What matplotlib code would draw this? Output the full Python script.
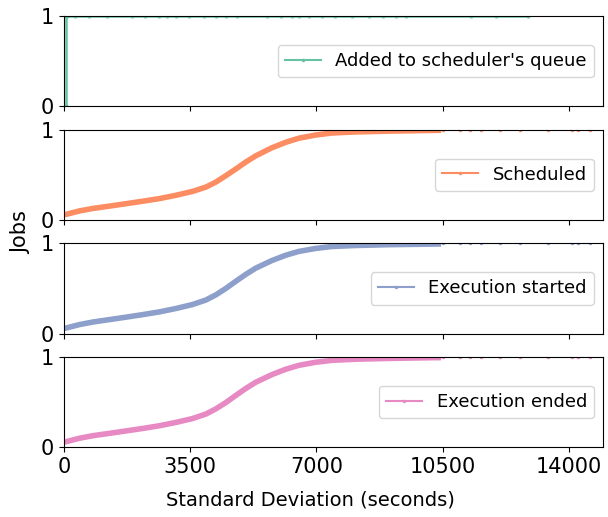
import matplotlib
matplotlib.use("Agg")
import matplotlib.pyplot as plt

colors = ["#66c2a5", "#fc8d62", "#8da0cb", "#e78ac3"]
labels = ["Added to scheduler's queue", "Scheduled", "Execution started", "Execution ended"]

# panel 1: nearly everything at 0, sparse tail at 1
queue_x = [60, 60, 100, 300, 700, 1200, 1880, 2240, 2650, 2870, 3120, 3480, 3890, 4220,
           4500, 4800, 5630, 6020, 6320, 6510, 6790, 7150, 7530, 7980, 8450, 8860,
           9220, 9490, 11290, 11980, 12860]
queue_y = [0.0] + [1.0] * (len(queue_x) - 1)

# panels 2-4: CDF
sched_x = [0, 440, 810, 1270, 1730, 2190, 2650, 3110, 3570, 3940, 4210, 4490, 4770,
           5040, 5320, 5770, 6150, 6510, 6970, 7430, 8080, 9000, 9920, 10380]
sched_y = [0.055, 0.10, 0.127, 0.153, 0.18, 0.207, 0.236, 0.273, 0.316, 0.364, 0.418, 0.49, 0.565,
           0.64, 0.71, 0.80, 0.86, 0.905, 0.94, 0.963, 0.975, 0.984, 0.99, 0.993]
start_x = [0, 440, 810, 1270, 1730, 2190, 2650, 3110, 3570, 3940, 4210, 4490, 4770,
           5040, 5320, 5770, 6150, 6510, 6970, 7430, 8080, 9000, 9920, 10380]
start_y = [0.055, 0.10, 0.128, 0.155, 0.182, 0.21, 0.24, 0.278, 0.322, 0.372, 0.428, 0.50, 0.58,
           0.655, 0.725, 0.81, 0.868, 0.91, 0.943, 0.965, 0.976, 0.985, 0.99, 0.993]
end_x = [0, 440, 810, 1270, 1730, 2190, 2650, 3110, 3570, 3940, 4210, 4490, 4770,
         5040, 5320, 5770, 6150, 6510, 6970, 7430, 8080, 9000, 9920, 10380]
end_y = [0.055, 0.10, 0.128, 0.154, 0.181, 0.208, 0.238, 0.275, 0.318, 0.368, 0.424, 0.495, 0.575,
         0.65, 0.72, 0.805, 0.864, 0.907, 0.941, 0.963, 0.975, 0.984, 0.99, 0.993]
tail_x = [10500, 10980, 11270, 11570, 12100, 12640, 13420, 14100, 14240, 14580]
tail_y = [1.0] * len(tail_x)

xticks = [0, 3500, 7000, 10500, 14000]

fig, axes = plt.subplots(4, 1, figsize=(6.08, 5.17), dpi=100, sharex=True)
fig.subplots_adjust(left=0.105, right=0.992, top=0.969, bottom=0.135, hspace=0.26)

series = [(queue_x, queue_y), (sched_x, sched_y), (start_x, start_y), (end_x, end_y)]
for i, ax in enumerate(axes):
    x, y = series[i]
    c = colors[i]
    if i == 0:
        ax.plot(x, y, '.-', color=c, lw=1.8, ms=4)
    else:
        ax.plot(x, y, '-', color=c, lw=4)
        ax.plot([x[-1]] + tail_x, [y[-1]] + tail_y, '.-', color=c, lw=1, ms=3)
    # legend handle: thin line with a small dot
    ax.plot([], [], '.-', color=c, lw=1.5, ms=3, label=labels[i])
    ax.set_ylim(0, 1)
    ax.set_yticks([0, 1])
    ax.set_xlim(0, 14950)
    ax.set_xticks(xticks)
    ax.tick_params(labelsize=15)
    ax.legend(loc='center right', fontsize=13)

fig.text(0.035, 0.55, 'Jobs', rotation=90, va='center', ha='center', fontsize=15)
fig.text(0.51, 0.032, 'Standard Deviation (seconds)', ha='center', va='center', fontsize=14)

fig.savefig('out.png', dpi=100)
